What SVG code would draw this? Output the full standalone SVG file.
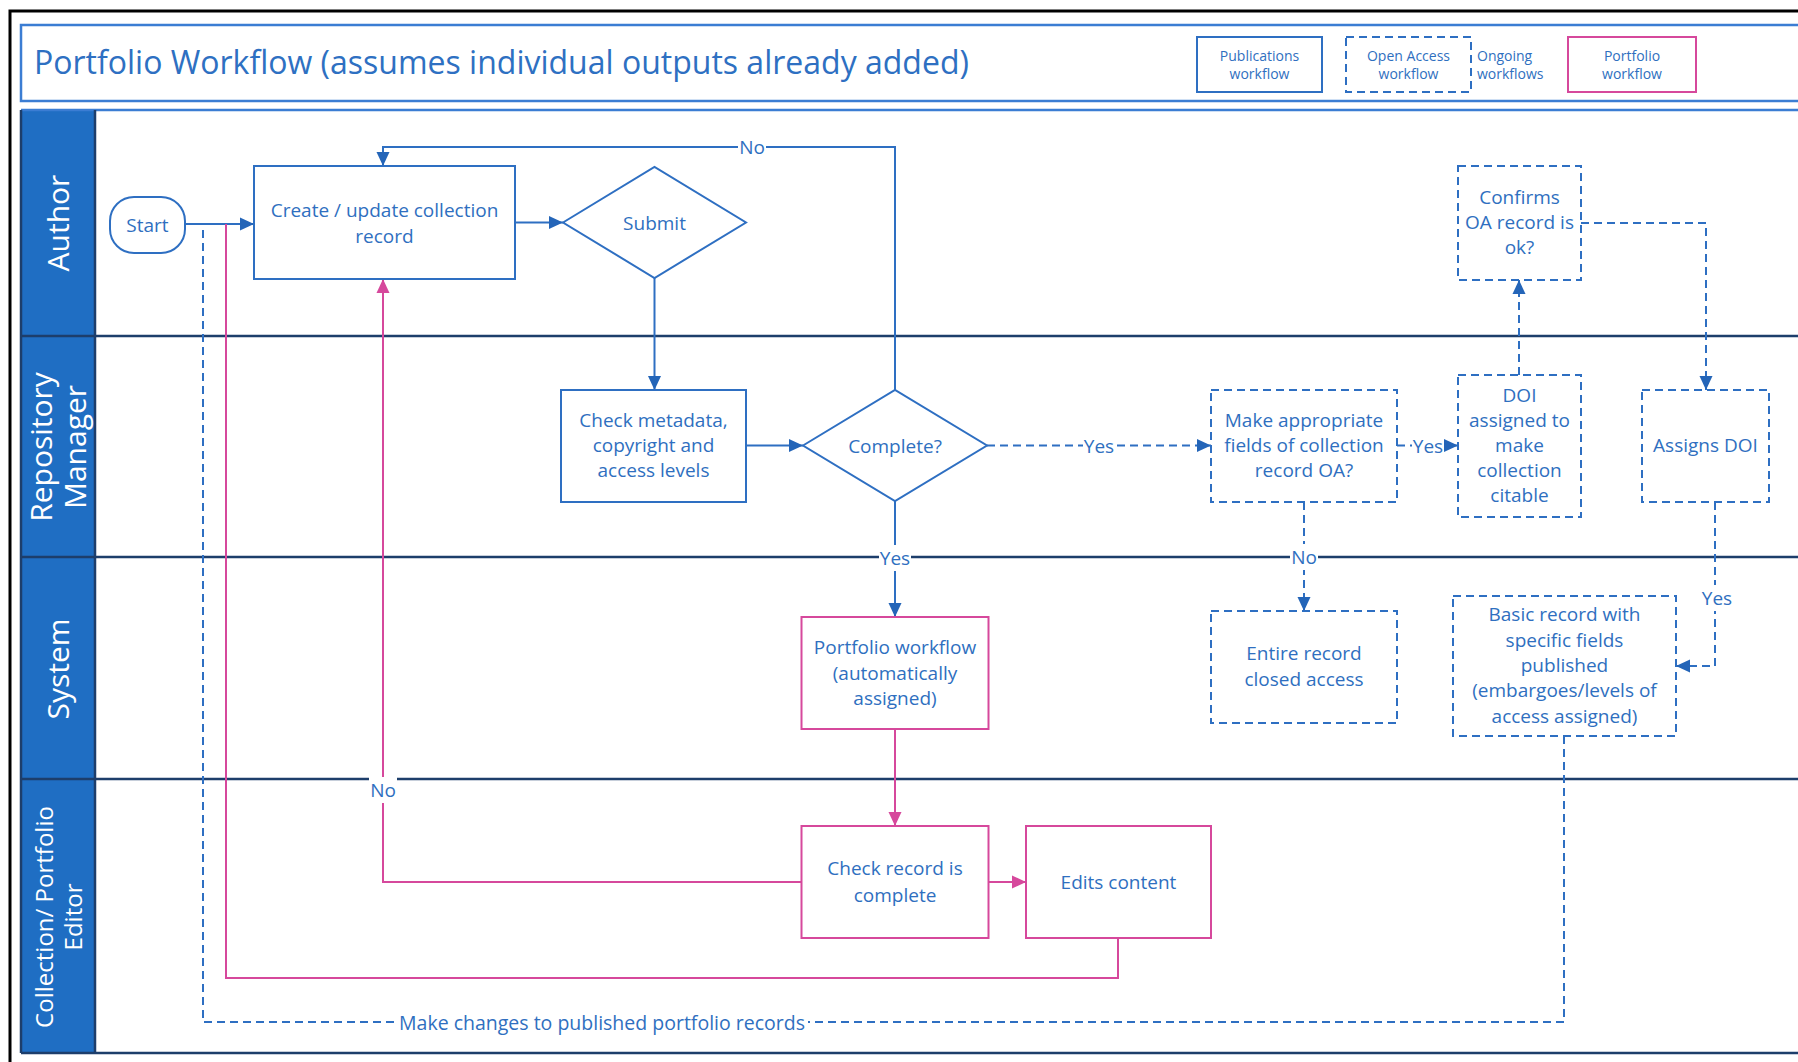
<svg xmlns="http://www.w3.org/2000/svg" width="1798" height="1062" viewBox="0 0 1798 1062">
<defs>
<style>
.box{fill:#fff;stroke:#2E6FC2;stroke-width:2}
.dbox{fill:#fff;stroke:#2E6FC2;stroke-width:2;stroke-dasharray:8 5}
.pbox{fill:#fff;stroke:#D6489C;stroke-width:2}
.t{font-family:'Open Sans','Noto Sans',sans-serif;font-size:19px;fill:#2F6FC0;text-anchor:middle;dominant-baseline:central}
.lg{font-family:'Open Sans','Noto Sans',sans-serif;font-size:14px;fill:#2F6FC0;text-anchor:middle;dominant-baseline:central}
.lane{font-family:'Open Sans','Noto Sans',sans-serif;font-size:30px;fill:#fff;text-anchor:middle;dominant-baseline:central}
.ln{fill:none;stroke:#2E6FC2;stroke-width:2}
.dln{fill:none;stroke:#2E6FC2;stroke-width:2;stroke-dasharray:8 5}
.pln{fill:none;stroke:#D6489C;stroke-width:2}
.bg{fill:#fff}
</style>
<marker id="ab" markerUnits="userSpaceOnUse" markerWidth="14" markerHeight="14" viewBox="0 0 14 14" refX="14" refY="7" orient="auto"><path d="M0,0.5 L14,7 L0,13.5 z" fill="#2465B8"/></marker>
<marker id="ap" markerUnits="userSpaceOnUse" markerWidth="14" markerHeight="14" viewBox="0 0 14 14" refX="14" refY="7" orient="auto"><path d="M0,0.5 L14,7 L0,13.5 z" fill="#D6489C"/></marker>
</defs>
<rect width="1798" height="1062" fill="#fff"/>
<path d="M10,1062 V11 H1798" fill="none" stroke="#000" stroke-width="3"/>

<g id="title">
<rect x="21" y="25" width="1800" height="76" fill="#fff" stroke="#3B7DD3" stroke-width="2.5"/>
<text x="34" y="74" style="font-family:'Open Sans','Noto Sans',sans-serif;font-size:32px;fill:#2E70C2">Portfolio Workflow (assumes individual outputs already added)</text>
</g>

<g id="legend">
<rect x="1197" y="37" width="125" height="55" class="box"/>
<text class="lg" x="1259.5" y="55">Publications</text><text class="lg" x="1259.5" y="73">workflow</text>
<rect x="1346" y="37" width="125" height="55" class="dbox"/>
<text class="lg" x="1408.5" y="55">Open Access</text><text class="lg" x="1408.5" y="73">workflow</text>
<text class="lg" x="1477" y="55" style="text-anchor:start">Ongoing</text><text class="lg" x="1477" y="73" style="text-anchor:start">workflows</text>
<rect x="1568" y="37" width="128" height="55" class="pbox"/>
<text class="lg" x="1632" y="55">Portfolio</text><text class="lg" x="1632" y="73">workflow</text>
</g>

<g id="lanes">
<rect x="21" y="110" width="74" height="943" fill="#1F6EC3"/>
<line x1="21" y1="110" x2="1798" y2="110" stroke="#3B7DD3" stroke-width="2.5"/>
<g stroke="#1D3E6B" stroke-width="2.5">
<line x1="21" y1="336" x2="1798" y2="336"/>
<line x1="21" y1="557" x2="1798" y2="557"/>
<line x1="21" y1="779" x2="1798" y2="779"/>
<line x1="21" y1="1053" x2="1798" y2="1053"/>
<line x1="95" y1="110" x2="95" y2="1053"/>
<line x1="21" y1="110" x2="21" y2="1053"/>
</g>
<text class="lane" transform="translate(57,223) rotate(-90)">Author</text>
<text class="lane" transform="translate(40,447) rotate(-90)">Repository</text>
<text class="lane" transform="translate(74,447) rotate(-90)">Manager</text>
<text class="lane" transform="translate(57,669) rotate(-90)">System</text>
<text class="lane" style="font-size:24px" transform="translate(43,917) rotate(-90)">Collection/ Portfolio</text>
<text class="lane" style="font-size:24px" transform="translate(72,917) rotate(-90)">Editor</text>
</g>

<g id="connectors">
<path class="ln" d="M185,224 H254" marker-end="url(#ab)"/>
<path class="ln" d="M515,222.5 H563" marker-end="url(#ab)"/>
<path class="ln" d="M654.5,278 V390" marker-end="url(#ab)"/>
<path class="ln" d="M746,445.5 H803" marker-end="url(#ab)"/>
<path class="ln" d="M895,390 V147 H383 V166" marker-end="url(#ab)"/>
<path class="ln" d="M895,501 V617" marker-end="url(#ab)"/>
<path class="pln" d="M895,729 V826" marker-end="url(#ap)"/>
<path class="pln" d="M988,882 H1026" marker-end="url(#ap)"/>
<path class="pln" d="M801,882 H383 V279" marker-end="url(#ap)"/>
<path class="pln" d="M1118,938 V978 H226 V224"/>
<path class="dln" d="M987,445.5 H1211" marker-end="url(#ab)"/>
<path class="dln" d="M1397,445.5 H1458" marker-end="url(#ab)"/>
<path class="dln" d="M1304,502 V611" marker-end="url(#ab)"/>
<path class="dln" d="M1519,375 V280" marker-end="url(#ab)"/>
<path class="dln" d="M1581,223 H1706 V390" marker-end="url(#ab)"/>
<path class="dln" d="M1715,502 V666 H1676" marker-end="url(#ab)"/>
<path class="dln" d="M1564,736 V1022 H203 V224"/>
<rect class="bg" x="738" y="134" width="28" height="26"/><text class="t" x="752" y="147">No</text>
<rect class="bg" x="879" y="545" width="32" height="26"/><text class="t" x="895" y="558">Yes</text>
<rect class="bg" x="369" y="777" width="28" height="26"/><text class="t" x="383" y="790">No</text>
<rect class="bg" x="1083" y="433" width="32" height="26"/><text class="t" x="1099" y="446">Yes</text>
<rect class="bg" x="1412" y="433" width="32" height="26"/><text class="t" x="1428" y="446">Yes</text>
<rect class="bg" x="1290" y="544" width="28" height="26"/><text class="t" x="1304" y="557">No</text>
<rect class="bg" x="1701" y="585" width="32" height="26"/><text class="t" x="1717" y="598">Yes</text>
<rect class="bg" x="396" y="1009" width="412" height="26"/><text class="t" x="602" y="1022" style="font-size:19.5px">Make changes to published portfolio records</text>
</g>

<g id="start"><rect x="110" y="197" width="75" height="56" rx="24" class="box"/><text class="t" x="147.5" y="225">Start</text></g>
<g id="create"><rect x="254" y="166" width="261" height="113" class="box"/><text class="t" x="384.5" y="210">Create / update collection</text><text class="t" x="384.5" y="236">record</text></g>
<g id="submit"><polygon points="563,222.5 654.5,167 746,222.5 654.5,278" class="box"/><text class="t" x="654.5" y="222.5">Submit</text></g>
<g id="check-metadata"><rect x="561" y="390" width="185" height="112" class="box"/><text class="t" x="653.5" y="420">Check metadata,</text><text class="t" x="653.5" y="445">copyright and</text><text class="t" x="653.5" y="470">access levels</text></g>
<g id="complete"><polygon points="803,445.5 895,390 987,445.5 895,501" class="box"/><text class="t" x="895" y="445.5">Complete?</text></g>
<g id="make-oa"><rect x="1211" y="390" width="186" height="112" class="dbox"/><text class="t" x="1304" y="420">Make appropriate</text><text class="t" x="1304" y="445">fields of collection</text><text class="t" x="1304" y="470">record OA?</text></g>
<g id="doi"><rect x="1458" y="375" width="123" height="142" class="dbox"/><text class="t" x="1519.5" y="395">DOI</text><text class="t" x="1519.5" y="420">assigned to</text><text class="t" x="1519.5" y="445">make</text><text class="t" x="1519.5" y="470">collection</text><text class="t" x="1519.5" y="495">citable</text></g>
<g id="confirms"><rect x="1458" y="166" width="123" height="114" class="dbox"/><text class="t" x="1519.5" y="197">Confirms</text><text class="t" x="1519.5" y="222">OA record is</text><text class="t" x="1519.5" y="247">ok?</text></g>
<g id="assigns-doi"><rect x="1642" y="390" width="127" height="112" class="dbox"/><text class="t" x="1705.5" y="445">Assigns DOI</text></g>
<g id="portfolio-workflow"><rect x="801.5" y="617" width="187" height="112" class="pbox"/><text class="t" x="895" y="647">Portfolio workflow</text><text class="t" x="895" y="673">(automatically</text><text class="t" x="895" y="698">assigned)</text></g>
<g id="entire-record"><rect x="1211" y="611" width="186" height="112" class="dbox"/><text class="t" x="1304" y="653">Entire record</text><text class="t" x="1304" y="679">closed access</text></g>
<g id="basic-record"><rect x="1453" y="596" width="223" height="140" class="dbox"/><text class="t" x="1564.5" y="614">Basic record with</text><text class="t" x="1564.5" y="640">specific fields</text><text class="t" x="1564.5" y="665">published</text><text class="t" x="1564.5" y="690">(embargoes/levels of</text><text class="t" x="1564.5" y="716">access assigned)</text></g>
<g id="check-record"><rect x="801.5" y="826" width="187" height="112" class="pbox"/><text class="t" x="895" y="868">Check record is</text><text class="t" x="895" y="895">complete</text></g>
<g id="edits-content"><rect x="1026" y="826" width="185" height="112" class="pbox"/><text class="t" x="1118.5" y="882">Edits content</text></g>
</svg>
